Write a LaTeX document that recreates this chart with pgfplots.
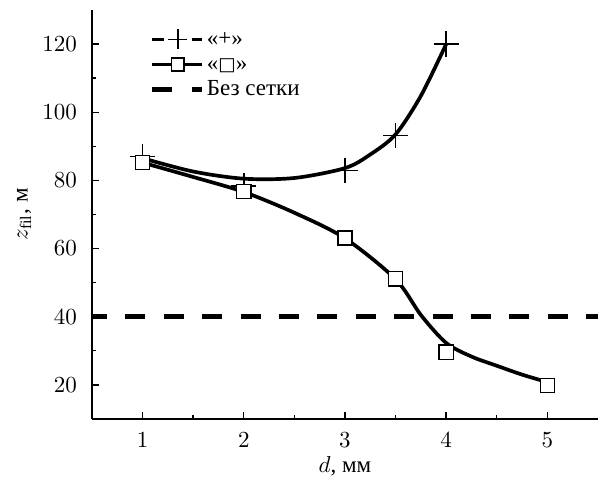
\documentclass[border=0pt]{standalone}
\usepackage{pgfplots}
\pgfplotsset{compat=1.18}
\usepackage{fontspec}
\setmainfont{Liberation Serif}
\newfontfamily\symfont{DejaVu Sans}
\usetikzlibrary{calc}
\newcommand{\lstrut}{\rule[-2.5pt]{0pt}{9.3pt}}
\begin{document}
\begin{tikzpicture}
\begin{axis}[
  scale only axis,
  width=220pt, height=177.8pt,
  xmin=0.5, xmax=5.5, ymin=10, ymax=130,
  axis lines=left,
  axis line style={-, line width=0.7pt},
  tick align=inside,
  xtick={1,2,3,4,5},
  ytick={20,40,60,80,100,120},
  minor x tick num=1, minor y tick num=1,
  major tick length=3pt, minor tick length=1.7pt,
  tick style={line width=0.6pt, black},
  tick label style={font=\normalsize},
  x tick label style={yshift=-2.5pt},
  y tick label style={xshift=-3pt},
  xlabel={$d$, мм},
  ylabel={$z_{\mathrm{fil}}$, м},
  xlabel style={yshift=3pt},
  ylabel style={yshift=-2pt},
  legend cell align=left,
  legend style={draw=none, fill=none, at={(axis cs:1.07,125)}, anchor=north west,
    font=\normalsize, row sep=0.6pt, inner sep=0pt,
    nodes={inner sep=1pt}},
]
% smooth curves
\addplot[smooth, line width=1.6pt, forget plot] coordinates {
  (1,86.5) (1.5,82.6) (2,80.5) (2.5,80.7) (3,83.6) (3.25,87.6) (3.5,93.5) (3.75,104.8) (4,120)};
\addplot[smooth, line width=1.6pt, forget plot] coordinates {
  (1,85.2) (1.5,81) (2,76.6) (2.5,70.5) (3,63) (3.5,51) (3.75,40.5) (4,32.3) (4.25,28.3) (4.5,25.6) (4.75,23) (5,20.8)};
% no-grid line
\addplot[line width=2pt, dash pattern=on 8.7pt off 8pt, dash phase=2.2pt, forget plot] coordinates {(0.5,40) (5.5,40)};
% markers
\addplot[only marks, mark=+, mark size=5.5pt, line width=0.7pt, forget plot] coordinates {
  (1,87) (2,78.4) (3,82.9) (3.5,93.2) (4,120)};
\addplot[only marks, mark=square*, mark size=3.1pt, line width=0.6pt, mark options={fill=white}, forget plot] coordinates {
  (1,85.2) (2,76.7) (3,63.1) (3.5,51.1) (4,29.6) (5,19.8)};
% legend
\addlegendimage{legend image code/.code={
  \draw[line width=1.4pt] (0pt,0pt) -- (5.2pt,0pt);
  \draw[line width=1.4pt] (17.4pt,0pt) -- (21.7pt,0pt);
  \draw[line width=0.7pt] (6.9pt,0pt) -- (15.1pt,0pt) (11pt,-4.3pt) -- (11pt,4.3pt);}}
\addlegendentry{\lstrut«+»}
\addlegendimage{legend image code/.code={
  \draw[line width=1.4pt] (0pt,0pt) -- (21.7pt,0pt);
  \draw[line width=0.6pt, fill=white] (8.2pt,-2.8pt) rectangle (13.8pt,2.8pt);}}
\addlegendentry{\lstrut«{\symfont\footnotesize □}»}
\addlegendimage{legend image code/.code={
  \draw[line width=2pt] (0pt,0pt) -- (8.3pt,0pt);
  \draw[line width=2pt] (17pt,0pt) -- (21.7pt,0pt);}}
\addlegendentry{\lstrut Без сетки}
\end{axis}
\path ($(current axis.south west)+(-40pt,-26pt)$) rectangle ($(current axis.north east)+(2.2pt,4.35pt)$);
\end{tikzpicture}
\end{document}
